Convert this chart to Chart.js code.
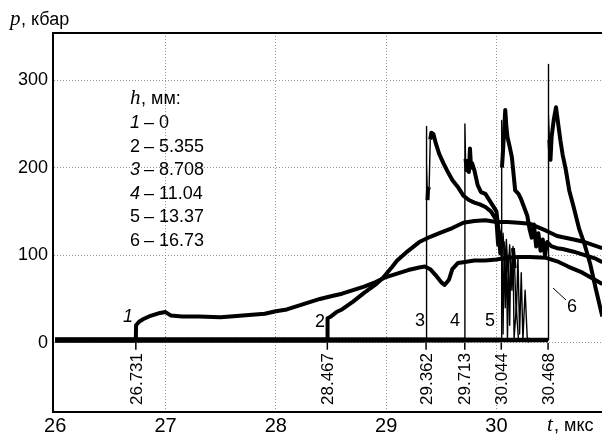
<!DOCTYPE html>
<html>
<head>
<meta charset="utf-8">
<script src="https://cdn.jsdelivr.net/npm/chart.js@4/dist/chart.umd.min.js"></script>
<style>
  html, body { margin: 0; padding: 0; background: #fff; }
  #wrap { position: relative; width: 602px; height: 434px; }
</style>
</head>
<body>
<div id="wrap"><canvas id="c" width="602" height="434"></canvas></div>
<script>
// Axis ticks
const tickT = [26, 27, 28, 29, 30];
const tickP = [0, 100, 200, 300];

// Shock arrival times (мкс) and gauge depths h (мм)
const arrivals = [26.731, 28.467, 29.362, 29.713, 30.044, 30.468];
const depths = ['0', '5.355', '8.708', '11.04', '13.37', '16.73'];

// Gauge 1, h = 0
const t1 = [26, 26.731, 26.733, 26.76, 26.8, 26.85, 26.9, 26.95, 27.0, 27.05, 27.15, 27.3, 27.5, 27.7, 27.9, 28.0, 28.1, 28.2, 28.3, 28.4, 28.5, 28.6, 28.7, 28.8, 28.9, 29.0, 29.1, 29.2, 29.3, 29.35, 29.4, 29.45, 29.5, 29.53, 29.57, 29.6, 29.65, 29.7, 29.8, 29.9, 30.0, 30.1, 30.2, 30.3, 30.45, 30.55, 30.65, 30.78, 30.96];
const p1 = [3, 3, 20, 24, 27, 30, 32, 34, 35, 31, 30, 30, 29, 31, 33, 36, 38, 42, 46, 50, 53, 56, 60, 64, 69, 75, 79, 83, 86, 87, 84, 77, 69, 66, 72, 84, 91, 92, 94, 94, 95, 97, 98, 98, 97, 93, 87, 80, 67];

// Gauge 2, h = 5.355
const t2 = [26, 28.467, 28.469, 28.5, 28.55, 28.6, 28.7, 28.8, 28.9, 28.97, 29.05, 29.1, 29.2, 29.3, 29.4, 29.5, 29.6, 29.7, 29.8, 29.9, 30.0, 30.1, 30.2, 30.3, 30.45, 30.55, 30.7, 30.8, 30.96];
const p2 = [3, 3, 28, 30, 35, 38, 47, 57, 66, 74, 86, 94, 105, 115, 121, 126, 131, 137, 139, 140, 138, 138, 137, 136, 128, 122, 118, 115, 108];

// Gauge 3, h = 8.708
const t3 = [26, 29.362, 29.363, 29.37, 29.375, 29.38, 29.39, 29.40, 29.41, 29.43, 29.45, 29.48, 29.52, 29.56, 29.60, 29.65, 29.70, 29.75, 29.80, 29.85, 29.90, 29.95, 30.0, 30.015, 30.03, 30.045, 30.06, 30.075, 30.09, 30.105, 30.12, 30.135, 30.15, 30.165, 30.18, 30.195, 30.21, 30.225, 30.24, 30.26, 30.28, 30.3];
const p3 = [3, 3, 247, 205, 163, 175, 178, 232, 240, 238, 228, 216, 205, 195, 186, 178, 168, 163, 160, 158, 155, 150, 140, 112, 128, 96, 125, 88, 118, 80, 112, 70, 108, 85, 30, 98, 10, 80, 3, 60, 3, 3];

// Gauge 4, h = 11.04
const t4 = [26, 29.713, 29.714, 29.72, 29.73, 29.74, 29.75, 29.76, 29.77, 29.78, 29.8, 29.83, 29.86, 29.9, 29.95, 30.0, 30.02, 30.035, 30.05, 30.06, 30.07, 30.08, 30.09, 30.1, 30.11, 30.12, 30.13, 30.14, 30.15, 30.16, 30.18, 30.2];
const p4 = [3, 3, 250, 210, 197, 205, 195, 222, 200, 205, 197, 180, 172, 170, 160, 150, 128, 102, 120, 10, 115, 40, 105, 3, 100, 20, 95, 60, 110, 5, 40, 3];

// Gauge 5, h = 13.37
const t5 = [26, 30.044, 30.045, 30.05, 30.06, 30.07, 30.08, 30.09, 30.1, 30.12, 30.14, 30.17, 30.2, 30.22, 30.25, 30.28, 30.3, 30.32, 30.34, 30.36, 30.38, 30.4, 30.42, 30.44, 30.46, 30.5, 30.55, 30.6, 30.7, 30.8, 30.9, 30.96];
const p5 = [3, 3, 254, 200, 220, 243, 266, 247, 235, 224, 212, 174, 170, 165, 155, 145, 130, 120, 135, 110, 125, 105, 118, 100, 115, 110, 108, 107, 104, 100, 96, 92];

// Gauge 6, h = 16.73
const t6 = [26, 30.468, 30.469, 30.475, 30.48, 30.49, 30.5, 30.52, 30.54, 30.56, 30.58, 30.6, 30.63, 30.66, 30.7, 30.75, 30.8, 30.85, 30.9, 30.96];
const p6 = [3, 3, 318, 262, 232, 209, 235, 255, 269, 250, 231, 215, 197, 174, 155, 130, 112, 90, 62, 30];

const series = [[t1, p1], [t2, p2], [t3, p3], [t4, p4], [t5, p5], [t6, p6]];

const SANS = '"Liberation Sans", Arial, sans-serif';
const SERIF = '"Liberation Serif", "DejaVu Serif", serif';

// thin strokes for the steep jumps, thick for the noisy traces and the baseline
const segWidth = ctx => {
  const dx = Math.abs(ctx.p1.x - ctx.p0.x);
  const dy = Math.abs(ctx.p1.y - ctx.p0.y);
  if (ctx.p0.parsed.y <= 3 && ctx.p1.parsed.y <= 3) return 4.5;
  return (dy > 25 && dx < 3) ? 1.4 : 4;
};

const datasets = series.map(([t, p]) => ({
  data: t.map((x, i) => ({ x, y: p[i] })),
  borderColor: '#000',
  borderWidth: 4,
  borderJoinStyle: 'round',
  pointRadius: 0,
  tension: 0,
  fill: false,
  segment: { borderWidth: segWidth }
}));

const annotate = {
  id: 'annotate',
  afterDraw(chart) {
    const { ctx, chartArea: a, scales: { x, y } } = chart;
    ctx.save();
    ctx.fillStyle = '#000';
    ctx.strokeStyle = '#000';

    // top frame line
    ctx.lineWidth = 2;
    ctx.beginPath();
    ctx.moveTo(a.left - 1, a.top);
    ctx.lineTo(a.right, a.top);
    ctx.stroke();

    // axis titles
    ctx.textBaseline = 'alphabetic';
    ctx.textAlign = 'left';
    ctx.font = 'italic 21px ' + SERIF;
    ctx.fillText('p', 10, 25);
    ctx.font = '18px ' + SANS;
    ctx.fillText(', кбар', 21, 25);
    ctx.font = 'italic 21px ' + SERIF;
    ctx.fillText('t', 547, 431);
    ctx.font = '18px ' + SANS;
    ctx.fillText(', мкс', 554, 431);

    // depth list
    ctx.font = 'italic 21px ' + SERIF;
    ctx.fillText('h', 130, 104);
    ctx.font = '18px ' + SANS;
    ctx.fillText(', мм:', 141, 104);
    depths.forEach((d, i) => {
      const yb = 128 + i * 23.5;
      ctx.font = (i === 0 || i === 2 || i === 3 ? 'italic ' : '') + '18px ' + SANS;
      ctx.fillText(String(i + 1), 130, yb);
      ctx.font = '18px ' + SANS;
      ctx.fillText('– ' + d, 144, yb);
    });

    // curve numbers
    const nums = [[123, 322, true], [315, 327, false], [415, 326, false], [450, 326, false], [485, 326, false], [567, 312, false]];
    nums.forEach(([nx, ny, it], i) => {
      ctx.font = (it ? 'italic ' : '') + '18px ' + SANS;
      ctx.fillText(String(i + 1), nx, ny);
    });
    // leader to label 6
    ctx.lineWidth = 1;
    ctx.beginPath();
    ctx.moveTo(553, 288);
    ctx.lineTo(566, 300);
    ctx.stroke();

    // arrival markers and vertical time labels
    ctx.font = '17px ' + SANS;
    arrivals.forEach(v => {
      const px = x.getPixelForValue(v);
      const py = y.getPixelForValue(0);
      ctx.lineWidth = 1.5;
      ctx.beginPath();
      ctx.moveTo(px, py);
      ctx.lineTo(px, py + 7);
      ctx.stroke();
      ctx.save();
      ctx.translate(px, 405);
      ctx.rotate(-Math.PI / 2);
      ctx.textAlign = 'left';
      ctx.textBaseline = 'middle';
      ctx.fillText(v.toFixed(3), 0, 1);
      ctx.restore();
    });
    ctx.restore();
  }
};

new Chart(document.getElementById('c'), {
  type: 'line',
  data: { datasets },
  options: {
    responsive: false,
    animation: false,
    events: [],
    layout: { padding: { top: 33, right: 0, left: 0, bottom: 0 } },
    plugins: { legend: { display: false }, tooltip: { enabled: false } },
    scales: {
      x: {
        type: 'linear',
        min: 25.98,
        max: 30.957,
        afterBuildTicks: s => { s.ticks = tickT.map(v => ({ value: v })); },
        afterFit: s => { s.height = 22; },
        ticks: { color: '#000', font: { family: SANS, size: 20 }, padding: 2, maxRotation: 0 },
        grid: {
          drawTicks: false,
          color: c => (c.tick && c.tick.value === 26) ? 'rgba(0,0,0,0)' : '#999',
          lineWidth: 1
        },
        border: { color: '#000', width: 2, dash: [1, 2] }
      },
      y: {
        type: 'linear',
        min: -79.2,
        max: 353.9,
        afterBuildTicks: s => { s.ticks = tickP.map(v => ({ value: v })); },
        afterFit: s => { s.width = 53; },
        ticks: { color: '#000', font: { family: SANS, size: 18 }, padding: 5 },
        grid: { drawTicks: false, color: '#999', lineWidth: 1 },
        border: { color: '#000', width: 2, dash: [1, 2] }
      }
    }
  },
  plugins: [annotate]
});
</script>
</body>
</html>
